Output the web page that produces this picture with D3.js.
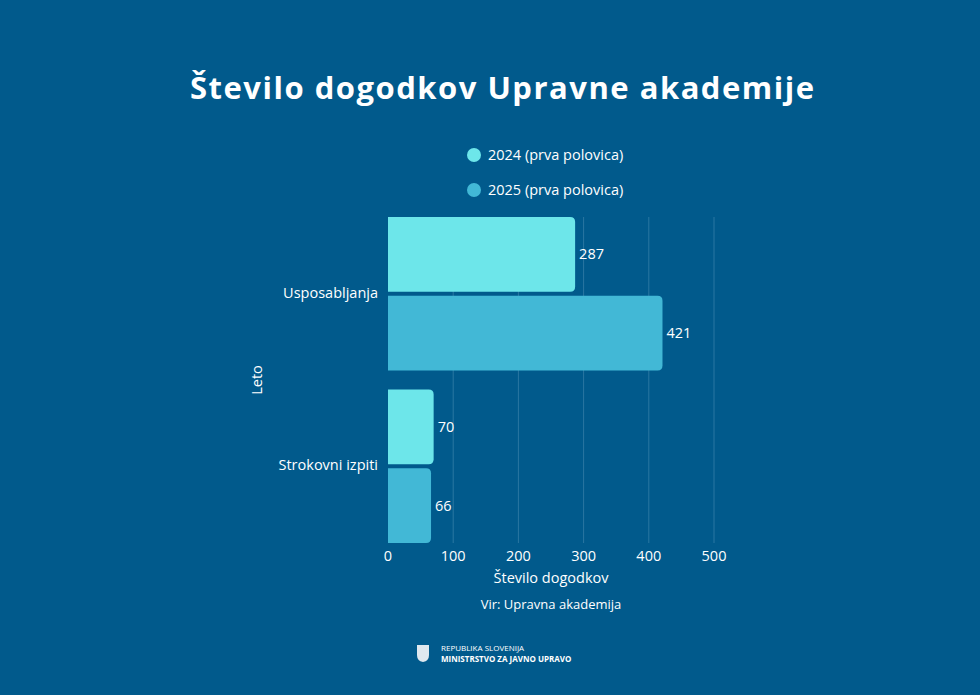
<!DOCTYPE html>
<html><head><meta charset="utf-8">
<script src="https://cdn.jsdelivr.net/npm/d3@7"></script>
<style>body{margin:0;background:#015a8c}svg{display:block;font-family:"Open Sans",Lato,sans-serif}</style>
</head><body><svg id="c" width="980" height="695"></svg>
<script>
const categories = ["Usposabljanja", "Strokovni izpiti"];
const seriesNames = ["2024 (prva polovica)", "2025 (prva polovica)"];
const values2024 = [287, 70];
const values2025 = [421, 66];
const xTicks = [0, 100, 200, 300, 400, 500];
const colors = ["#6de6ea", "#42b8d6"];

const svg = d3.select("#c");
svg.append("rect").attr("width",980).attr("height",695).attr("fill","#015a8c");
svg.append("text").attr("x",502).attr("y",99).attr("text-anchor","middle")
  .attr("fill","#fff").attr("font-size",31).attr("font-weight",700)
  .attr("textLength",624).attr("lengthAdjust","spacing").text("Število dogodkov Upravne akademije");

const x = d3.scaleLinear().domain([0,500]).range([388,714]);
const y = d3.scaleBand().domain(categories).range([217,543]).paddingInner(0.11);
const yi = d3.scaleBand().domain([0,1]).range([0,y.bandwidth()]).paddingInner(0.05);

svg.append("g").selectAll("line").data(xTicks.slice(1)).join("line")
  .attr("x1",d=>x(d)).attr("x2",d=>x(d)).attr("y1",217).attr("y2",543)
  .attr("stroke","#2a77a2").attr("stroke-width",1);

const data = [];
categories.forEach((c,i)=>{data.push({c,s:0,v:values2024[i]});data.push({c,s:1,v:values2025[i]});});
const r=5;
function barPath(d){
  const x0=x(0), x1=x(d.v), y0=y(d.c)+yi(d.s), h=yi.bandwidth();
  return `M${x0},${y0}H${x1-r}Q${x1},${y0} ${x1},${y0+r}V${y0+h-r}Q${x1},${y0+h} ${x1-r},${y0+h}H${x0}Z`;
}
svg.append("g").selectAll("path").data(data).join("path").attr("d",barPath).attr("fill",d=>colors[d.s]);
svg.append("g").selectAll("text").data(data).join("text")
  .attr("x",d=>x(d.v)+4).attr("y",d=>y(d.c)+yi(d.s)+yi.bandwidth()/2+5)
  .attr("fill","#fff").attr("font-size",14.5).text(d=>d.v);

svg.append("g").selectAll("text").data(xTicks).join("text")
  .attr("x",d=>x(d)).attr("y",561).attr("text-anchor","middle").attr("fill","#fff").attr("font-size",14.5).text(d=>d);
svg.append("g").selectAll("text").data(categories).join("text")
  .attr("x",378).attr("y",d=>y(d)+y.bandwidth()/2+4).attr("text-anchor","end").attr("fill","#fff").attr("font-size",14.5).text(d=>d);
svg.append("text").attr("x",551).attr("y",583).attr("text-anchor","middle").attr("fill","#fff").attr("font-size",14.5).text("Število dogodkov");
svg.append("text").attr("transform","translate(262,380) rotate(-90)").attr("text-anchor","middle").attr("fill","#fff").attr("font-size",14.5).text("Leto");
svg.append("text").attr("x",551).attr("y",609).attr("text-anchor","middle").attr("fill","#fff").attr("font-size",13).text("Vir: Upravna akademija");

seriesNames.forEach((n,i)=>{
  const yy=155+i*35;
  svg.append("circle").attr("cx",474).attr("cy",yy).attr("r",7).attr("fill",colors[i]);
  svg.append("text").attr("x",488).attr("y",yy+5).attr("fill","#fff").attr("font-size",14.5).text(n);
});

const f=svg.append("g");
f.append("path").attr("d","M417,645H429V655Q429,661 423,662Q417,661 417,655Z").attr("fill","#dfe8ef");
f.append("text").attr("x",441).attr("y",651).attr("fill","#fff").attr("font-size",8).text("REPUBLIKA SLOVENIJA");
f.append("text").attr("x",441).attr("y",662).attr("fill","#fff").attr("font-size",8).attr("font-weight",700).text("MINISTRSTVO ZA JAVNO UPRAVO");
</script></body></html>
